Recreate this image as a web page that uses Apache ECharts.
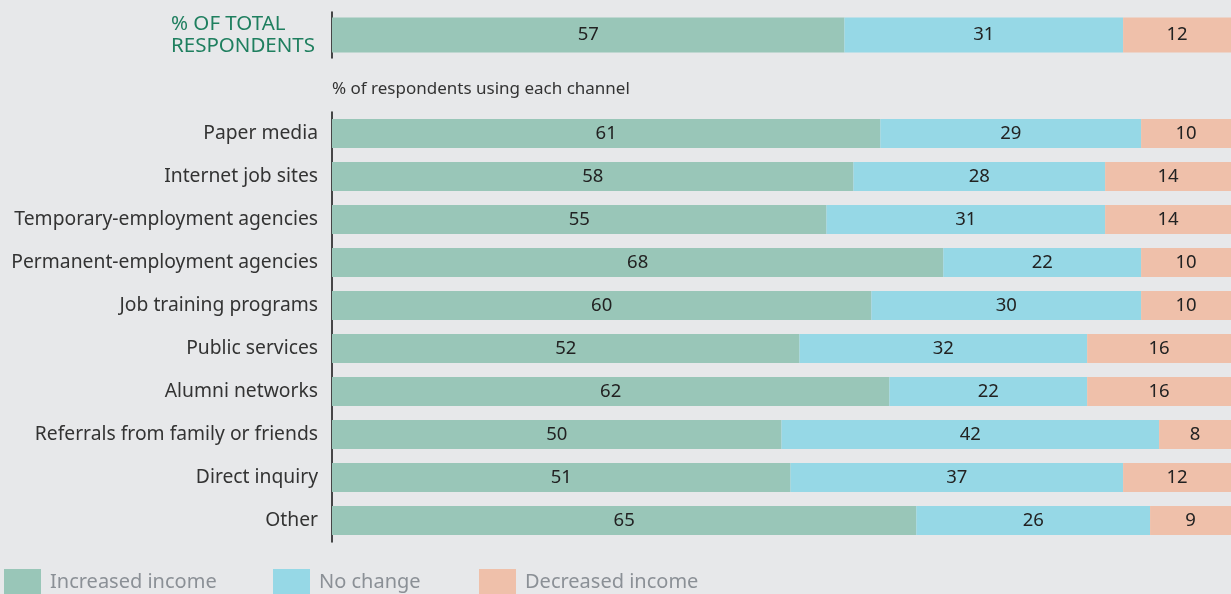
<!DOCTYPE html>
<html><head><meta charset="utf-8">
<script src="https://cdn.jsdelivr.net/npm/echarts@6/dist/echarts.min.js"></script>
<style>html,body{margin:0;padding:0;background:#e7e8ea;}#c{width:1231px;height:594px;}</style>
</head><body><div id="c"></div>
<script>
const totalLabel = ['% OF TOTAL\nRESPONDENTS'];
const totalIncreased = [57];
const totalNoChange = [31];
const totalDecreased = [12];
const categories = ['Paper media','Internet job sites','Temporary-employment agencies','Permanent-employment agencies','Job training programs','Public services','Alumni networks','Referrals from family or friends','Direct inquiry','Other'];
const increased = [61,58,55,68,60,52,62,50,51,65];
const noChange = [29,28,31,22,30,32,22,42,37,26];
const decreased = [10,14,14,10,10,16,16,8,12,9];
const seriesNames = ['Increased income','No change','Decreased income'];
const colors = ['#99c6b8','#96d8e6','#efc0aa'];
const FONT = 'Noto Sans';

const chart = echarts.init(document.getElementById('c'));
const lbl = {show:true, position:'inside', color:'#222', fontSize:18.5, fontFamily:FONT};
function mk(name, data, idx, grid, bw){
  return {name, type:'bar', stack:'s'+grid, xAxisIndex:grid, yAxisIndex:grid, data, barWidth:bw,
    itemStyle:{color:colors[idx]}, label:lbl, emphasis:{disabled:true}, animation:false};
}
const legends = [4,273,479].map((x,i)=>({
  data:[seriesNames[i]], left:x, top:569, padding:0, itemWidth:37, itemHeight:26, itemGap:0,
  icon:'rect', textStyle:{color:'#8b9096', fontSize:20, fontFamily:FONT, padding:[0,0,0,4]},
  selectedMode:false
}));
chart.setOption({
  backgroundColor:'#e7e8ea',
  animation:false,
  grid:[
    {left:332, right:0, top:12, height:46},
    {left:332, right:0, top:112, height:430}
  ],
  xAxis:[
    {gridIndex:0, type:'value', min:0, max:100, show:false},
    {gridIndex:1, type:'value', min:0, max:100, show:false}
  ],
  yAxis:[
    {gridIndex:0, type:'category', data:totalLabel, inverse:true,
     axisLine:{show:true, lineStyle:{color:'#111', width:1.5}}, axisTick:{show:false},
     axisLabel:{align:'left', margin:161, color:'#1f7f5f', fontSize:20.5, fontFamily:FONT, lineHeight:22}},
    {gridIndex:1, type:'category', data:categories, inverse:true,
     axisLine:{show:true, lineStyle:{color:'#111', width:1.5}}, axisTick:{show:false},
     axisLabel:{margin:14, color:'#333', fontSize:19.3, fontFamily:FONT}}
  ],
  legend:legends,
  graphic:[{type:'text', left:332, top:81, style:{text:'% of respondents using each channel', fill:'#333', fontSize:17, fontFamily:FONT}}],
  series:[
    mk(seriesNames[0], totalIncreased, 0, 0, 35),
    mk(seriesNames[1], totalNoChange, 1, 0, 35),
    mk(seriesNames[2], totalDecreased, 2, 0, 35),
    mk(seriesNames[0], increased, 0, 1, 29),
    mk(seriesNames[1], noChange, 1, 1, 29),
    mk(seriesNames[2], decreased, 2, 1, 29)
  ]
});
</script></body></html>
